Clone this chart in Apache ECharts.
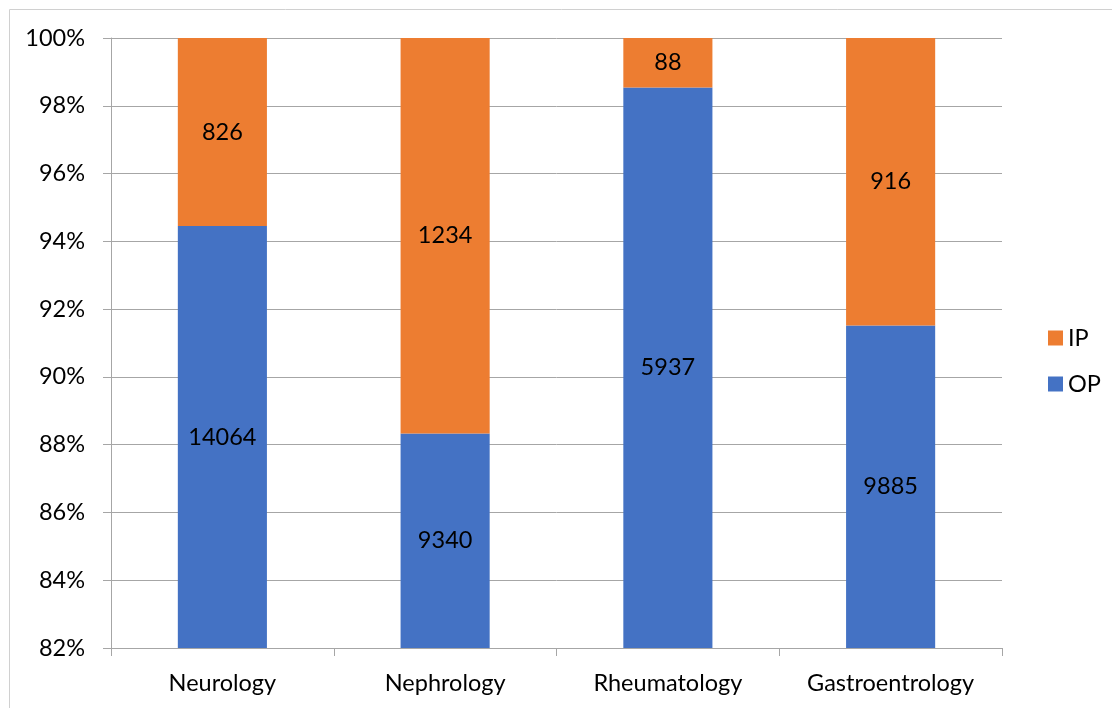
<!DOCTYPE html>
<html>
<head>
<meta charset="utf-8">
<script src="https://cdn.jsdelivr.net/npm/echarts@6/dist/echarts.min.js"></script>
<style>html,body{margin:0;padding:0;background:#fff}#c{width:1112px;height:708px}</style>
</head>
<body>
<div id="c"></div>
<script>
var categories = ['Neurology', 'Nephrology', 'Rheumatology', 'Gastroentrology'];
var opCounts = [14064, 9340, 5937, 9885];
var ipCounts = [826, 1234, 88, 916];
var yTicks = [82, 84, 86, 88, 90, 92, 94, 96, 98, 100];

var totals = opCounts.map(function (v, i) { return v + ipCounts[i]; });
var opPct = opCounts.map(function (v, i) { return v / totals[i] * 100; });
var ipPct = ipCounts.map(function (v, i) { return v / totals[i] * 100; });

var font = 'Lato, "Open Sans", sans-serif';
var fs = 23.5;
var chart = echarts.init(document.getElementById('c'));
chart.setOption({
  animation: false,
  graphic: [{
    type: 'rect', shape: { x: 9.5, y: 9.5, width: 1200, height: 800 },
    style: { fill: 'none', stroke: '#d0d0d0', lineWidth: 1 }, silent: true
  }],
  grid: { left: 111, right: 110, top: 38, bottom: 60, containLabel: false },
  legend: {
    orient: 'vertical', left: 1043, top: 321, itemGap: 22,
    itemWidth: 15, itemHeight: 15, icon: 'rect',
    data: ['IP', 'OP'],
    textStyle: { fontFamily: font, fontSize: fs, color: '#000', padding: [0, 0, 0, 0] }
  },
  xAxis: {
    type: 'category', data: categories,
    axisLine: { lineStyle: { color: '#a6a6a6', width: 1 } },
    axisTick: { show: true, length: 8, alignWithLabel: false, lineStyle: { color: '#a6a6a6' } },
    axisLabel: { fontFamily: font, fontSize: fs, color: '#000', margin: 23 }
  },
  yAxis: {
    type: 'value', min: yTicks[0], max: yTicks[yTicks.length - 1], interval: 2,
    axisLine: { show: true, lineStyle: { color: '#a6a6a6' } },
    axisTick: { show: true, length: 8, lineStyle: { color: '#a6a6a6' } },
    splitLine: { lineStyle: { color: '#a6a6a6', width: 1 } },
    axisLabel: { fontFamily: font, fontSize: fs, color: '#000', margin: 26,
      formatter: function (v) { return v + '%'; } }
  },
  series: [
    {
      name: 'OP', type: 'bar', stack: 'total', data: opPct, barWidth: '40%',
      itemStyle: { color: '#4472C4' },
      label: { show: true, position: 'inside', fontFamily: font, fontSize: fs, color: '#000',
        formatter: function (p) { return opCounts[p.dataIndex]; } }
    },
    {
      name: 'IP', type: 'bar', stack: 'total', data: ipPct, barWidth: '40%',
      itemStyle: { color: '#ED7D31' },
      label: { show: true, position: 'inside', fontFamily: font, fontSize: fs, color: '#000',
        formatter: function (p) { return ipCounts[p.dataIndex]; } }
    }
  ]
});
</script>
</body>
</html>
